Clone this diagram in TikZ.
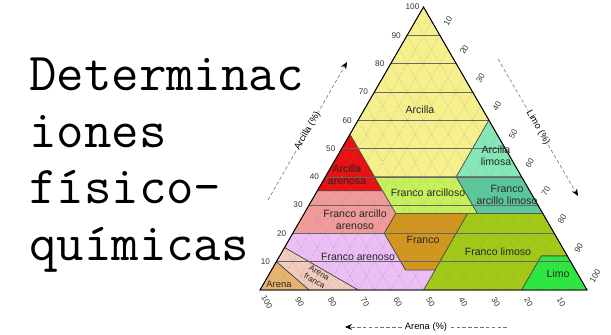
\documentclass[tikz,border=0pt]{standalone}
\usepackage{fontspec}
\setmainfont{Liberation Sans}
\usetikzlibrary{calc,arrows.meta}

\definecolor{arcilla}{HTML}{F5F08C}
\definecolor{arcillalim}{HTML}{86E8B8}
\definecolor{francoarclim}{HTML}{5CC79A}
\definecolor{arcillaare}{HTML}{E81010}
\definecolor{francoarc}{HTML}{C8F05A}
\definecolor{francoarcare}{HTML}{F09A9A}
\definecolor{franco}{HTML}{D2961E}
\definecolor{francolim}{HTML}{A2C818}
\definecolor{limo}{HTML}{2EE640}
\definecolor{francoare}{HTML}{EBBEF5}
\definecolor{arenafr}{HTML}{F2CABE}
\definecolor{arena}{HTML}{E6B46E}

\tikzset{
  clase/.style={draw=black!75,line width=0.5pt},
  malla/.style={black!45,line width=0.3pt,densely dotted},
  horiz/.style={black!60,line width=0.4pt},
  nombre/.style={font=\fontsize{9}{10.5}\selectfont,align=center,text=black!85,inner sep=0pt},
  escala/.style={font=\fontsize{7}{8}\selectfont,text=black!80,inner sep=0pt},
  eje/.style={densely dashed,black!55,line width=0.5pt,-{Stealth[length=6pt,width=5pt,black]}},
  ejelbl/.style={font=\fontsize{8}{9}\selectfont,text=black,fill=white,inner sep=0.5pt,sloped},
  titulo/.style={font=\ttfamily\fontsize{45.5}{54}\selectfont,anchor=base west,inner sep=0pt},
}

\begin{document}
\begin{tikzpicture}[x=0.03cm,y=-0.03cm]
    \useasboundingbox (0,0) rectangle (611,335);
    % title
    \node[titulo] (t1) at (29,90.7) {Determinac};
    \node[titulo] (t2) at (29,147) {iones};
    \node[titulo] (t3) at (29,203.5) {físico-};
    \node[titulo] (t4) at (29,260) {químicas};

    % corners of the triangle
    \coordinate (sa) at (260,290);
    \coordinate (si) at (587,290);
    \coordinate (cl) at (423.5,7);

    % class vertices, named p<clay>-<silt>
    \foreach \c/\s in {60/40,40/40,40/15,55/0,40/60,35/0,35/20,27/53,27/28,27/73,20/28,20/0,27/50,7/50,7/41,12/88,12/80,0/80,0/50,0/30,15/0,10/0,0/15}{
        \pgfmathsetmacro\px{260+(\s+\c/2)*3.27}
        \pgfmathsetmacro\py{290-\c*2.83}
        \coordinate (p\c-\s) at (\px,\py);
    }

    % classes
    \filldraw[clase,fill=arcilla] (cl) -- (p60-40) -- (p40-40) -- (p40-15) -- (p55-0) -- cycle;
    \filldraw[clase,fill=arcillalim] (p60-40) -- (p40-60) -- (p40-40) -- cycle;
    \filldraw[clase,fill=arcillaare] (p55-0) -- (p40-15) -- (p35-20) -- (p35-0) -- cycle;
    \filldraw[clase,fill=francoarc] (p40-15) -- (p40-40) -- (p27-53) -- (p27-28) -- (p35-20) -- cycle;
    \filldraw[clase,fill=francoarclim] (p40-40) -- (p40-60) -- (p27-73) -- (p27-53) -- cycle;
    \filldraw[clase,fill=francoarcare] (p35-0) -- (p35-20) -- (p27-28) -- (p20-28) -- (p20-0) -- cycle;
    \filldraw[clase,fill=franco] (p27-28) -- (p27-50) -- (p7-50) -- (p7-41) -- (p20-28) -- cycle;
    \filldraw[clase,fill=francolim] (p27-50) -- (p27-73) -- (p12-88) -- (p12-80) -- (p0-80) -- (p0-50) -- (p7-50) -- cycle;
    \filldraw[clase,fill=limo] (p12-88) -- (si) -- (p0-80) -- (p12-80) -- cycle;
    \filldraw[clase,fill=francoare] (p20-0) -- (p20-28) -- (p7-41) -- (p7-50) -- (p0-50) -- (p0-30) -- (p15-0) -- cycle;
    \filldraw[clase,fill=arenafr] (p15-0) -- (p0-30) -- (p0-15) -- (p10-0) -- cycle;
    \filldraw[clase,fill=arena] (sa) -- (p10-0) -- (p0-15) -- cycle;

    % grid
    \foreach \k in {5,10,...,95}{
        \draw[malla] ($(sa)!\k/100!(si)$) -- ($(si)!{(100-\k)/100}!(cl)$);
        \draw[malla] ($(si)!\k/100!(sa)$) -- ($(sa)!{(100-\k)/100}!(cl)$);
    }
    \foreach \k in {10,20,...,90}
        \draw[horiz] ($(sa)!\k/100!(cl)$) -- ($(si)!\k/100!(cl)$);
    \draw[line width=0.8pt] (sa) -- (si) -- (cl) -- cycle;

    % scales
    \foreach \k in {10,20,...,100}{
        \node[escala] (ca\k) at ($(sa)!\k/100!(cl)+(-11,0)$) {\k};
        \node[escala,rotate=60] (li\k) at ($(si)!{(100-\k)/100}!(cl)+(8,-14)$) {\k};
        \node[escala,rotate=-60] (ar\k) at ($(si)!\k/100!(sa)+(7,12)$) {\k};
    }

    % axes
    \coordinate (arcA) at (268,200);
    \coordinate (arcB) at (347,62);
    \coordinate (limA) at (498,59);
    \coordinate (limB) at (578,196);
    \coordinate (areA) at (507,327);
    \coordinate (areB) at (345,327);
    \draw[eje] (arcA) -- node[ejelbl] (eArcilla) {Arcilla (\%)} (arcB);
    \draw[eje] (limA) -- node[ejelbl] (eLimo) {Limo (\%)} (limB);
    \draw[eje] (areA) -- node[ejelbl] (eArena) {Arena (\%)} (areB);

    % class names
    \node[nombre] (nArcilla) at (420,110) {Arcilla};
    \node[nombre] (nArcLim) at (496,156) {Arcilla\\limosa};
    \node[nombre] (nFArcLim) at (507,195) {Franco\\arcillo limoso};
    \node[nombre] (nArcAre) at (347,175) {Arcilla\\arenosa};
    \node[nombre] (nFArc) at (428,193) {Franco arcilloso};
    \node[nombre] (nFArcAre) at (355,220) {Franco arcillo\\arenoso};
    \node[nombre] (nFranco) at (423,240) {Franco};
    \node[nombre] (nFLim) at (498,252) {Franco limoso};
    \node[nombre] (nLimo) at (558,274) {Limo};
    \node[nombre] (nFAre) at (358,257) {Franco arenoso};
    \node[nombre,rotate=-30,font=\fontsize{7}{8}\selectfont] (nAreF) at (317,277) {Arena\\franca};
    \node[nombre,font=\fontsize{8}{9}\selectfont] (nArena) at (279,284) {Arena};
\end{tikzpicture}
\end{document}
